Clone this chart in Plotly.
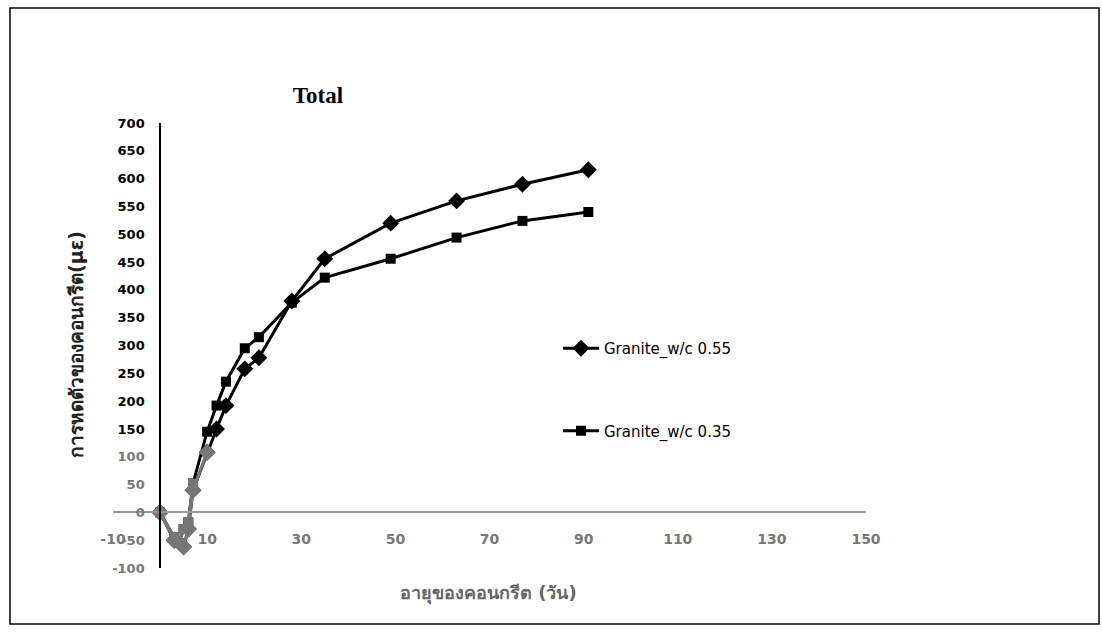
import plotly.graph_objects as go

# ---- data ----
days_055 = [0, 3, 5, 6, 7, 10, 12, 14, 18, 21, 28, 35, 49, 63, 77, 91]
shrink_055 = [0, -50, -62, -30, 40, 108, 150, 192, 258, 278, 380, 456, 520, 560, 590, 616]

days_035 = [0, 3, 4, 5, 6, 7, 10, 12, 14, 18, 21, 28, 35, 49, 63, 77, 91]
shrink_035 = [0, -45, -55, -30, -18, 52, 145, 192, 235, 295, 315, 377, 422, 456, 494, 524, 540]

series_names = ["Granite_w/c 0.55", "Granite_w/c 0.35"]
x_ticks = list(range(-10, 151, 20))
y_ticks = list(range(-100, 701, 50))

faded_n_055 = 6   # early points rendered faded (scan look)
faded_n_035 = 6

W, H = 1102, 635
L, R, T, B = 113, 236, 123, 67
x_range = [-10, 150]
y_range = [-100, 700]
PW, PH = W - L - R, H - T - B

fig = go.Figure()

fig.add_trace(go.Scatter(
    x=days_055, y=shrink_055, mode="lines+markers", name=series_names[0],
    legendgroup="a",
    line=dict(color="black", width=3),
    marker=dict(symbol="diamond", size=13, color="black"),
))
fig.add_trace(go.Scatter(
    x=days_035, y=shrink_035, mode="lines+markers", name=series_names[1],
    legendgroup="b",
    line=dict(color="black", width=3),
    marker=dict(symbol="square", size=10, color="black"),
))
# faded lower part (as in the scanned reference)
fig.add_trace(go.Scatter(
    x=days_055[:faded_n_055], y=shrink_055[:faded_n_055], mode="lines+markers",
    showlegend=False, hoverinfo="skip",
    line=dict(color="#777777", width=3),
    marker=dict(symbol="diamond", size=13, color="#777777"),
))
fig.add_trace(go.Scatter(
    x=days_035[:faded_n_035], y=shrink_035[:faded_n_035], mode="lines+markers",
    showlegend=False, hoverinfo="skip",
    line=dict(color="#777777", width=3),
    marker=dict(symbol="square", size=10, color="#777777"),
))

y_text = []
for v in y_ticks:
    if v <= 100:
        y_text.append(f"<span style='color:#777777'><b>{v}</b></span>")
    else:
        y_text.append(f"<b>{v}</b>")

x0_frac = (0 - x_range[0]) / (x_range[1] - x_range[0])
y0_frac = (0 - y_range[0]) / (y_range[1] - y_range[0])

fig.update_layout(
    width=W, height=H,
    margin=dict(l=L, r=R, t=T, b=B),
    paper_bgcolor="white", plot_bgcolor="white",
    font=dict(family="DejaVu Sans", color="black"),
    title=dict(text="<b>Total</b>", font=dict(family="Liberation Serif", size=23, color="black"),
               x=(318 - L) / PW, xref="paper", xanchor="center",
               y=1 - 95 / H, yref="container", yanchor="middle"),
    xaxis=dict(range=x_range, tickvals=x_ticks, ticktext=[f"<b>{v}</b>" for v in x_ticks],
               showgrid=False, zeroline=False, showline=True, linecolor="#999999", linewidth=1.5,
               anchor="free", position=y0_frac, ticks="",
               tickfont=dict(family="DejaVu Sans", size=14, color="#777777"),
               ticklabelstandoff=14),
    yaxis=dict(range=y_range, tickvals=y_ticks, ticktext=y_text,
               showgrid=False, zeroline=False, showline=True, linecolor="black", linewidth=1.5,
               anchor="free", position=x0_frac, ticks="",
               tickfont=dict(family="DejaVu Sans", size=13, color="black"),
               ticklabelstandoff=12),
    legend=dict(x=(558 - L) / PW, y=(H - B - 332) / PH,
                xanchor="left", yanchor="top", bgcolor="rgba(0,0,0,0)",
                font=dict(family="DejaVu Sans", size=15, color="black"),
                itemwidth=36, tracegroupgap=60),
    showlegend=True,
)

# axis titles
fig.add_annotation(text="<b>อายุของคอนกรีต (วัน)</b>", xref="paper", yref="paper",
                   x=(488 - L) / PW, y=(H - B - 593) / PH,
                   showarrow=False, font=dict(size=18, color="#666666"),
                   xanchor="center", yanchor="middle")
fig.add_annotation(text="<b>การหดตัวของคอนกรีต(με)</b>", xref="paper", yref="paper",
                   x=(76 - L) / PW, y=(H - B - 345) / PH,
                   showarrow=False, textangle=-90, font=dict(size=19, color="#222222"),
                   xanchor="center", yanchor="middle")

# outer chart frame
fig.add_shape(type="rect", xref="paper", yref="paper",
              x0=(10 - L) / PW, x1=(1099 - L) / PW,
              y0=(H - B - 624) / PH, y1=(H - B - 8) / PH,
              line=dict(color="black", width=1.5), fillcolor="rgba(0,0,0,0)")

fig.write_html("out.html")
